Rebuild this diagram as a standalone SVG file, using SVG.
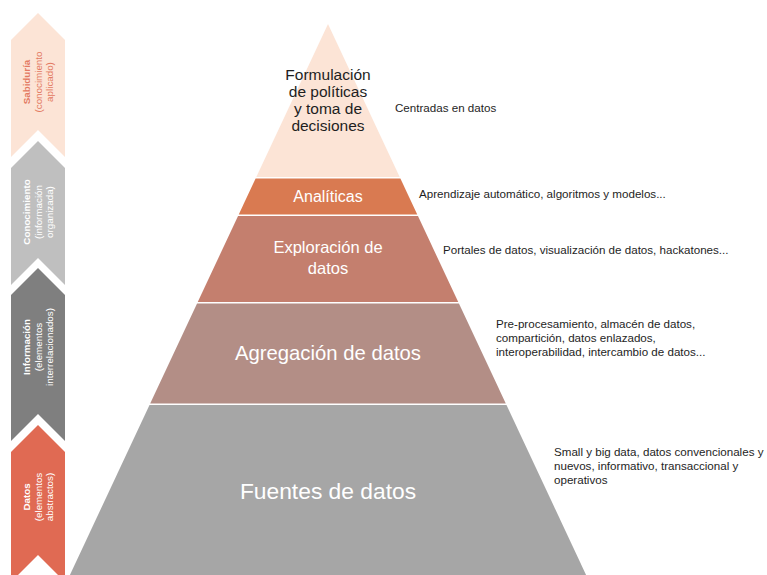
<svg xmlns="http://www.w3.org/2000/svg" width="767" height="575" viewBox="0 0 767 575">
<style>
.side{font-family:"Liberation Sans",Arial,sans-serif;font-size:9.8px;text-anchor:middle}
.side .b{font-weight:bold}
.lbl{font-family:"Liberation Sans",Arial,sans-serif;text-anchor:middle;fill:#ffffff}
.desc{font-family:"Liberation Sans",Arial,sans-serif;font-size:11.6px;fill:#1e1e1e}
</style>
<rect width="767" height="575" fill="#ffffff"/>
<g id="chevron-sabiduria">
<polygon points="11,40 38,13 65,40 65,157 38,130 11,157" fill="#FCE4D6"/>
<g class="side" fill="#E37A62" transform="translate(38,82) rotate(-90)">
<text class="b" y="-8">Sabiduría</text>
<text y="3.5">(conocimiento</text>
<text y="15">aplicado)</text>
</g>
</g>
<g id="chevron-conocimiento">
<polygon points="11,168 38,141 65,168 65,285 38,258 11,285" fill="#BFBFBF"/>
<g class="side" fill="#ffffff" transform="translate(38,212) rotate(-90)">
<text class="b" y="-8">Conocimiento</text>
<text y="3.5">(información</text>
<text y="15">organizada)</text>
</g>
</g>
<g id="chevron-informacion">
<polygon points="11,295 38,268 65,295 65,441 38,414 11,441" fill="#7F7F7F"/>
<g class="side" fill="#ffffff" transform="translate(38,347) rotate(-90)">
<text class="b" y="-8">Información</text>
<text y="3.5">(elementos</text>
<text y="15">interrelacionados)</text>
</g>
</g>
<g id="chevron-datos">
<polygon points="11,452 38,425 65,452 65,582 38,555 11,582" fill="#E06A53"/>
<g class="side" fill="#ffffff" transform="translate(38,497) rotate(-90)">
<text class="b" y="-8">Datos</text>
<text y="3.5">(elementos</text>
<text y="15">abstractos)</text>
</g>
</g>
<g id="layer-politicas">
<polygon points="328,24 399.7,177 256.3,177" fill="#FCE4D6"/>
<g font-family="Liberation Sans, Arial, sans-serif" font-size="15.5" fill="#1e1e1e" text-anchor="middle">
<text x="328" y="80">Formulación</text>
<text x="328" y="97">de políticas</text>
<text x="328" y="114">y toma de</text>
<text x="328" y="131">decisiones</text>
</g>
<text class="desc" x="395" y="112">Centradas en datos</text>
</g>
<g id="layer-analiticas">
<polygon points="255.6,178.5 400.4,178.5 417.25,214.5 238.75,214.5" fill="#D97A51"/>
<text class="lbl" x="328" y="202" font-size="16">Analíticas</text>
<text class="desc" x="419" y="198">Aprendizaje automático, algoritmos y modelos...</text>
</g>
<g id="layer-exploracion">
<polygon points="238.05,216 417.95,216 458.24,302 197.76,302" fill="#C47F6E"/>
<text class="lbl" x="328" y="253" font-size="16.5">Exploración de</text>
<text class="lbl" x="328" y="274" font-size="16.5">datos</text>
<text class="desc" x="443" y="254">Portales de datos, visualización de datos, hackatones...</text>
</g>
<g id="layer-agregacion">
<polygon points="197.05,303.5 458.95,303.5 505.8,403.5 150.2,403.5" fill="#B38E86"/>
<text class="lbl" x="328" y="360" font-size="20.3">Agregación de datos</text>
<text class="desc" x="496" y="328">Pre-procesamiento, almacén de datos,</text>
<text class="desc" x="496" y="342">compartición, datos enlazados,</text>
<text class="desc" x="496" y="356">interoperabilidad, intercambio de datos...</text>
</g>
<g id="layer-fuentes">
<polygon points="149.5,405 506.5,405 586.1,575 69.9,575" fill="#A6A6A6"/>
<text class="lbl" x="328" y="499" font-size="22.8">Fuentes de datos</text>
<text class="desc" x="554" y="456">Small y big data, datos convencionales y</text>
<text class="desc" x="554" y="470">nuevos, informativo, transaccional y</text>
<text class="desc" x="554" y="484">operativos</text>
</g>
<g id="connectors"/>
</svg>
